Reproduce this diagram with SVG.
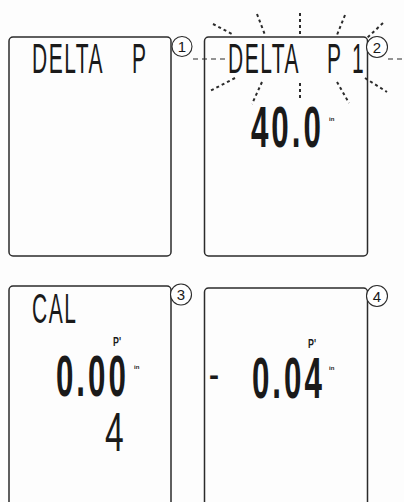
<svg xmlns="http://www.w3.org/2000/svg" width="404" height="502" viewBox="0 0 404 502">
<style>
.panel{fill:none;stroke:#2b2b2b;stroke-width:1.5}
.lcd{font-family:"Liberation Sans",Arial,sans-serif;fill:#1a1a1a}
.thin{font-size:42px;font-weight:normal}
.big{font-weight:bold;font-size:57px}
.tiny{font-size:6px;font-weight:bold}
.pp{font-size:13px;font-weight:bold}
.num circle{fill:#fff;stroke:#2b2b2b;stroke-width:1.1}
.num text{font-family:"Liberation Sans",Arial,sans-serif;font-size:15px;fill:#1a1a1a;text-anchor:middle}
.ray{stroke:#2b2b2b;stroke-width:2;stroke-dasharray:3 3;fill:none}
.dash{stroke:#2b2b2b;stroke-width:1.2;stroke-dasharray:5 4;fill:none}
</style>
<rect width="404" height="502" fill="#fdfdfd"/>

<g id="connectors">
<line class="dash" x1="193" y1="59" x2="229" y2="59"/>
<line class="dash" x1="388" y1="59" x2="404" y2="59"/>
</g>

<g id="panel1">
<rect class="panel" x="9" y="37" width="162" height="219" rx="4"/>
<text class="lcd thin" transform="translate(32,73) scale(0.5,1)" x="0" y="0" letter-spacing="3">DELTA<tspan x="200">P</tspan></text>
</g>

<g id="panel2">
<rect class="panel" x="204.5" y="37" width="163" height="219" rx="4"/>
<g id="rays">
<line class="ray" x1="213" y1="24" x2="232" y2="34"/>
<line class="ray" x1="257" y1="14" x2="265" y2="35"/>
<line class="ray" x1="300" y1="13" x2="300" y2="35"/>
<line class="ray" x1="345" y1="15" x2="337" y2="35"/>
<line class="ray" x1="383" y1="23" x2="367" y2="38"/>
<line class="ray" x1="235" y1="78" x2="210" y2="91"/>
<line class="ray" x1="262" y1="82" x2="252" y2="104"/>
<line class="ray" x1="300" y1="83" x2="300" y2="101"/>
<line class="ray" x1="337" y1="82" x2="349" y2="103"/>
<line class="ray" x1="365" y1="78" x2="387" y2="92"/>
</g>
<text class="lcd thin" transform="translate(228,73) scale(0.5,1)" x="0" y="0" letter-spacing="3">DELTA<tspan x="198">P</tspan><tspan x="248">1</tspan></text>
<text class="lcd big" transform="translate(251,147) scale(0.55,1)" x="0" y="0" textLength="127" lengthAdjust="spacing">40.0</text>
<text class="lcd tiny" x="329" y="121">in</text>
</g>

<g id="panel3">
<rect class="panel" x="9" y="286" width="162" height="230" rx="4"/>
<text class="lcd thin" transform="translate(32,323) scale(0.5,1)" x="0" y="0" letter-spacing="3">CAL</text>
<text class="lcd pp" x="113" y="346" textLength="8" lengthAdjust="spacingAndGlyphs">P'</text>
<text class="lcd big" transform="translate(56,396) scale(0.55,1)" x="0" y="0" textLength="127" lengthAdjust="spacing">0.00</text>
<text class="lcd tiny" x="134" y="369">in</text>
<text class="lcd" transform="translate(105,451) scale(0.6,1)" x="0" y="0" font-size="56">4</text>
</g>

<g id="panel4">
<rect class="panel" x="204.5" y="288" width="163" height="230" rx="4"/>
<text class="lcd pp" x="308" y="348" textLength="8" lengthAdjust="spacingAndGlyphs">P'</text>
<text class="lcd" x="209" y="385" font-size="30" font-weight="bold">-</text>
<text class="lcd big" transform="translate(252,398) scale(0.55,1)" x="0" y="0" textLength="127" lengthAdjust="spacing">0.04</text>
<text class="lcd tiny" x="329" y="370">in</text>
</g>

<g id="labels" class="num">
<g id="n1"><circle cx="182" cy="46.5" r="10"/><text x="182" y="52">1</text></g>
<g id="n2"><circle cx="377" cy="47" r="10.5"/><text x="377" y="52.5">2</text></g>
<g id="n3"><circle cx="181" cy="294.5" r="10.5"/><text x="181" y="300">3</text></g>
<g id="n4"><circle cx="377" cy="296" r="10.5"/><text x="377" y="301.5">4</text></g>
</g>
</svg>
